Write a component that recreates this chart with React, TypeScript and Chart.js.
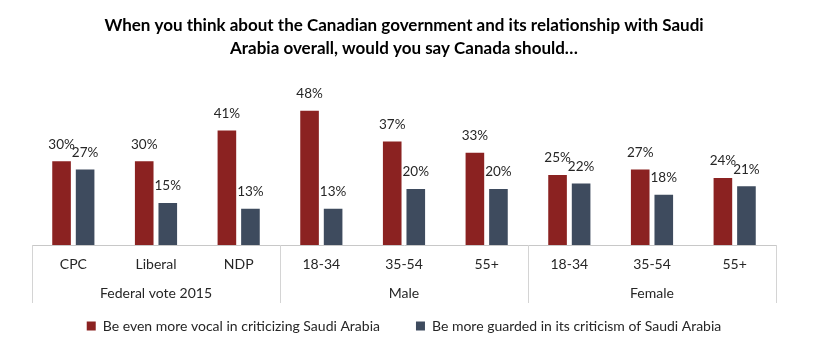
import React, { useEffect, useRef } from 'react';
import { Chart, registerables } from 'chart.js';

Chart.register(...registerables);

const titleLines = [
  'When you think about the Canadian government and its relationship with Saudi',
  'Arabia overall, would you say Canada should…',
];
const categories = ['CPC', 'Liberal', 'NDP', '18-34', '35-54', '55+', '18-34', '35-54', '55+'];
const groupNames = ['Federal vote 2015', 'Male', 'Female'];
const groupSizes = [3, 3, 3];
const seriesNames = [
  'Be even more vocal in criticizing Saudi Arabia',
  'Be more guarded in its criticism of Saudi Arabia',
];
const vocalValues = [30, 30, 41, 48, 37, 33, 25, 27, 24];
const guardedValues = [27, 15, 13, 13, 20, 20, 22, 18, 21];

const RED = '#8b2221';
const BLUE = '#3e4b5e';
const TEXT = '#262626';
const FONT = 'Lato, "Open Sans", sans-serif';

const labelsPlugin = {
  id: 'customLabels',
  afterDatasetsDraw(chart: any) {
    const ctx = chart.ctx;
    ctx.save();
    ctx.font = `13.5px ${FONT}`;
    ctx.fillStyle = TEXT;
    ctx.textAlign = 'center';
    ctx.textBaseline = 'middle';
    chart.data.datasets.forEach((ds: any, di: number) => {
      const meta = chart.getDatasetMeta(di);
      meta.data.forEach((bar: any, i: number) => {
        ctx.fillText(`${ds.data[i]}%`, bar.x, bar.y - 17);
      });
    });
    ctx.restore();
  },
  afterDraw(chart: any) {
    const ctx = chart.ctx;
    const xs = chart.scales.x;
    const area = chart.chartArea;
    const half = (xs.getPixelForValue(1) - xs.getPixelForValue(0)) / 2;
    ctx.save();
    ctx.strokeStyle = '#d4d4d4';
    ctx.lineWidth = 1;
    let idx = 0;
    const bounds: number[] = [area.left];
    ctx.font = `14px ${FONT}`;
    ctx.fillStyle = TEXT;
    ctx.textAlign = 'center';
    ctx.textBaseline = 'middle';
    groupSizes.forEach((n, g) => {
      const start = xs.getPixelForValue(idx) - half;
      const end = xs.getPixelForValue(idx + n - 1) + half;
      bounds.push(end);
      ctx.fillText(groupNames[g], (start + end) / 2, area.bottom + 48);
      idx += n;
    });
    bounds.forEach((bx) => {
      const x = Math.round(bx) + 0.5;
      ctx.beginPath();
      ctx.moveTo(x, area.bottom);
      ctx.lineTo(x, area.bottom + 58);
      ctx.stroke();
    });
    ctx.restore();
  },
};

export default function App() {
  const ref = useRef<HTMLCanvasElement | null>(null);
  useEffect(() => {
    if (!ref.current) return;
    const chart = new Chart(ref.current, {
      type: 'bar',
      data: {
        labels: categories,
        datasets: [
          { label: seriesNames[0], data: vocalValues, backgroundColor: RED },
          { label: seriesNames[1], data: guardedValues, backgroundColor: BLUE },
        ],
      },
      options: {
        animation: false,
        responsive: true,
        maintainAspectRatio: false,
        categoryPercentage: 0.57,
        barPercentage: 0.79,
        layout: { padding: { left: 32, right: 43, top: 0, bottom: 8 } },
        plugins: {
          title: {
            display: true,
            text: titleLines,
            color: '#000',
            font: { family: FONT, size: 17, weight: 'bold', lineHeight: 1.36 },
            padding: { top: 14, bottom: 45 },
          },
          legend: {
            position: 'bottom',
            labels: {
              boxWidth: 9,
              boxHeight: 9,
              padding: 36,
              color: TEXT,
              font: { family: FONT, size: 14 },
            },
          },
          tooltip: { enabled: false },
        },
        scales: {
          x: {
            grid: { display: false, drawTicks: false },
            border: { color: '#c8c8c8' },
            ticks: { color: TEXT, font: { family: FONT, size: 14 }, padding: 11 },
            afterFit: (s: any) => { s.height = 38; },
          },
          y: {
            display: false,
            min: 0,
            max: 50,
          },
        },
      },
      plugins: [labelsPlugin],
    });
    return () => chart.destroy();
  }, []);
  return (
    <div style={{ position: 'fixed', left: 0, top: 0, width: 819, height: 351, background: '#fff' }}>
      <canvas ref={ref} />
    </div>
  );
}
